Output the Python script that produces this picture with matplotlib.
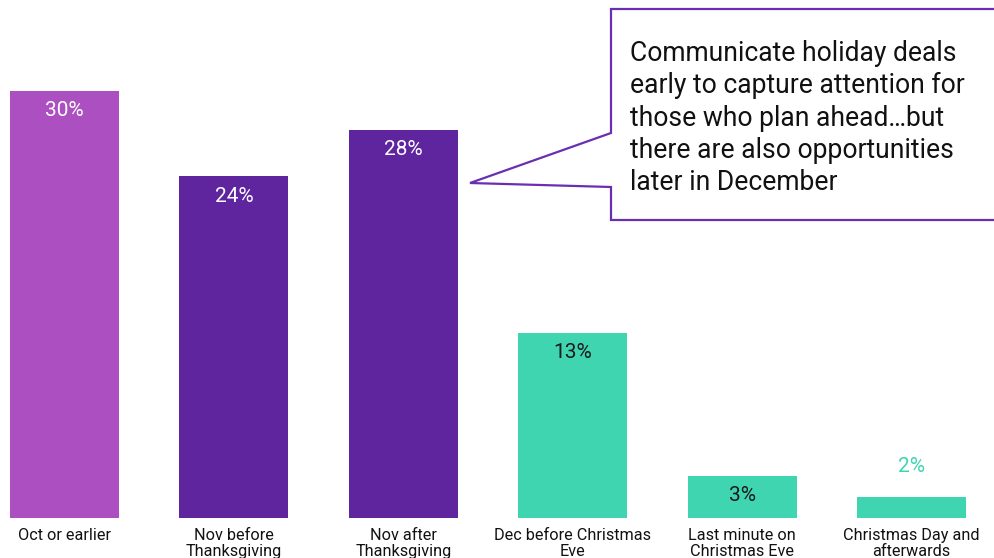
import matplotlib
matplotlib.use("Agg")
import matplotlib.pyplot as plt
from matplotlib.patches import Polygon

plt.rcParams['font.family'] = ['Roboto', 'DejaVu Sans']

categories = ["Oct or earlier", "Nov before\nThanksgiving", "Nov after\nThanksgiving",
              "Dec before Christmas\nEve", "Last minute on\nChristmas Eve",
              "Christmas Day and\nafterwards"]
values = [30, 24, 27.3, 13, 2.95, 1.5]
labels = ["30%", "24%", "28%", "13%", "3%", "2%"]
colors = ["#AC4FC0", "#5F259F", "#5F259F", "#3ED5B0", "#3ED5B0", "#3ED5B0"]
label_colors = ["white", "white", "white", "#1a1a1a", "#1a1a1a", "#3ED5B0"]
callout = ("Communicate holiday deals\nearly to capture attention for\n"
           "those who plan ahead\u2026but\nthere are also opportunities\nlater in December")

W, H = 995, 558
fig = plt.figure(figsize=(W / 100, H / 100), dpi=100)
ax = fig.add_axes([0, (H - 518) / H, 1, 518 / H])

x = list(range(len(categories)))
ax.bar(x, values, width=0.643, color=colors)
ax.set_xlim(-0.381, 5.493)
ax.set_ylim(0, 36.4)

for xi, v, lab, lc in zip(x, values, labels, label_colors):
    if v < 2:
        ax.annotate(lab, (xi, v), xytext=(0, 15), textcoords="offset points",
                    ha="center", va="bottom", fontsize=15, color=lc)
    else:
        ax.annotate(lab, (xi, v), xytext=(0, -7.5), textcoords="offset points",
                    ha="center", va="top", fontsize=15, color=lc)

ax.set_xticks(x)
ax.set_xticklabels(categories, fontsize=11.7, linespacing=1.05, color="#111111")
ax.tick_params(axis="x", length=0, pad=7.5)
ax.set_yticks([])
for s in ax.spines.values():
    s.set_visible(False)


def fp(px, py):
    return (px / W, 1 - py / H)


pts = [fp(611, 9), fp(1000, 9), fp(1000, 220), fp(611, 220), fp(611, 187),
       fp(470, 183), fp(611, 133)]
fig.patches.append(Polygon(pts, closed=True, transform=fig.transFigure,
                           facecolor="white", edgecolor="#6A2FB0", linewidth=1.6,
                           zorder=5))
fig.text(630 / W, 1 - 40 / H, callout, ha="left", va="top", fontsize=19.1,
         linespacing=1.25, color="#111111", zorder=6)

fig.savefig("out.png", dpi=100)
